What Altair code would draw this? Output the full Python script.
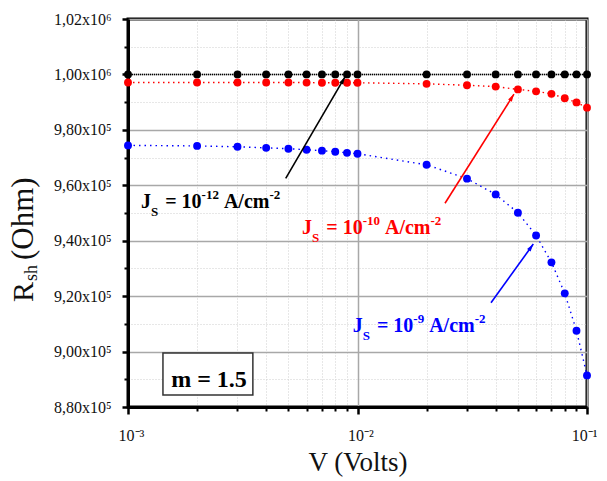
import altair as alt
import pandas as pd

# ---------------- data ----------------
V = [0.001, 0.002, 0.003, 0.004, 0.005, 0.006, 0.007, 0.008, 0.009,
     0.01, 0.02, 0.03, 0.04, 0.05, 0.06, 0.07, 0.08, 0.09, 0.1]
R_js12 = [1000000, 1000000, 1000000, 1000000, 1000000, 1000000, 1000000, 1000000, 1000000,
          1000000, 1000000, 1000000, 1000000, 1000000, 1000000, 1000000, 1000000, 1000000, 1000000]
R_js10 = [997100, 997100, 997100, 997100, 997100, 997050, 997000, 997000, 997000,
          997000, 996600, 996100, 995600, 994600, 993900, 993000, 991400, 989900, 988000]
R_js9 = [974400, 974200, 973900, 973500, 973200, 972800, 972500, 972100, 971700,
         971400, 967400, 962400, 956700, 950100, 941900, 932200, 921000, 907500, 891400]

series_names = ["1e-12", "1e-10", "1e-9"]
series_values = [R_js12, R_js10, R_js9]
series_colors = ["#000000", "#ff0000", "#0000ff"]
series_dash = [[1, 1], [1.5, 3.5], [1.5, 4]]

y_major = [880000, 900000, 920000, 940000, 960000, 980000, 1000000, 1020000]
y_major_labels = ["8,80x10⁵", "9,00x10⁵", "9,20x10⁵", "9,40x10⁵", "9,60x10⁵",
                  "9,80x10⁵", "1,00x10⁶", "1,02x10⁶"]
y_minor = [890000, 910000, 930000, 950000, 970000, 990000, 1010000]
x_major = [0.001, 0.01, 0.1]
x_major_labels = ["10⁻³", "10⁻²", "10⁻¹"]
x_minor = [0.002, 0.003, 0.004, 0.005, 0.006, 0.007, 0.008, 0.009,
           0.02, 0.03, 0.04, 0.05, 0.06, 0.07, 0.08, 0.09]

# annotations (data coordinates)
ann_exps = ["-12", "-10", "-9"]
ann_text_x = [0.001139, 0.005732, 0.00953]
ann_text_y = [951800, 942300, 907200]
arrow_x1 = [0.004866, 0.02406, 0.03817]
arrow_y1 = [962500, 953500, 917600]
arrow_x2 = [0.00882, 0.04806, 0.05835]
arrow_y2 = [999100, 992900, 938800]
arrow_angle = [30, 32, 36]

box_x = [0.00142, 0.00350]
box_y = [899500, 884300]
box_text = "m = 1.5"
box_text_x = 0.002254
box_text_y = 887200

SERIF = "Liberation Serif"

# ---------------- scales ----------------
xscale = alt.Scale(type="log", domain=[0.001, 0.1], nice=False)
yscale = alt.Scale(domain=[880000, 1020000], nice=False, zero=False)


def label_expr(values, labels):
    expr = "''"
    for v, l in zip(values, labels):
        expr = f"datum.value == {v} ? '{l}' : ({expr})"
    return expr


df_black = pd.DataFrame({"V": V, "R": R_js12})

# minor axes / grid layer
minor_layer = alt.Chart(df_black).mark_point(opacity=0).encode(
    x=alt.X("V:Q", scale=xscale, axis=alt.Axis(
        orient="bottom", values=x_minor, labels=False, title=None, domain=False,
        tickSize=4, tickWidth=2, tickColor="black",
        grid=True, gridColor="#cfcfcf", gridDash=[1, 2], gridWidth=1)),
    y=alt.Y("R:Q", scale=yscale, axis=alt.Axis(
        orient="left", values=y_minor, labels=False, title=None, domain=False,
        tickSize=4, tickWidth=2, tickColor="black",
        grid=True, gridColor="#cfcfcf", gridDash=[1, 2], gridWidth=1)),
)

# major axes / grid layer
major_layer = alt.Chart(df_black).mark_point(opacity=0).encode(
    x=alt.X("V:Q", scale=xscale, axis=alt.Axis(
        orient="bottom", values=x_major,
        labelExpr=label_expr(x_major, x_major_labels),
        labelFont=SERIF, labelFontSize=16, labelColor="#111",
        labelBaseline="alphabetic", labelPadding=26,
        labelAlign={"condition": {"test": "datum.value > 0.05", "value": "right"},
                    "value": "left"},
        labelOffset={"condition": {"test": "datum.value > 0.05", "value": 10},
                     "value": -10},
        labelFlush=False,
        domain=True, domainColor="black", domainWidth=3,
        tickSize=7, tickWidth=2.5, tickColor="black",
        grid=True, gridColor="#a8a8a8", gridWidth=1.5,
        title="V (Volts)", titleFont=SERIF, titleFontSize=27,
        titleFontWeight="normal", titleColor="#111",
        titleBaseline="alphabetic", titleY=63)),
    y=alt.Y("R:Q", scale=yscale, axis=alt.Axis(
        orient="left", values=y_major,
        labelExpr=label_expr(y_major, y_major_labels),
        labelFont=SERIF, labelFontSize=16, labelColor="#111",
        labelPadding=11, labelFlush=False,
        domain=True, domainColor="black", domainWidth=3,
        tickSize=6, tickWidth=2.5, tickColor="black",
        grid=True, gridColor="#a8a8a8", gridWidth=1.5,
        title=None)),
)

layers = [minor_layer, major_layer]

# series
for name, vals, col, dash in zip(series_names, series_values, series_colors, series_dash):
    d = pd.DataFrame({"V": V, "R": vals})
    base = alt.Chart(d).encode(
        x=alt.X("V:Q", scale=xscale, axis=None),
        y=alt.Y("R:Q", scale=yscale, axis=None),
    )
    layers.append(base.mark_line(color=col, strokeDash=dash, strokeWidth=1.4))
    layers.append(base.mark_circle(color=col, size=62, opacity=1))

# arrows
ARROW_PATH = "M0,0L-0.55,1.9L0.55,1.9Z"
for i, col in enumerate(series_colors):
    d = pd.DataFrame({"x1": [arrow_x1[i]], "y1": [arrow_y1[i]],
                      "x2": [arrow_x2[i]], "y2": [arrow_y2[i]]})
    layers.append(alt.Chart(d).mark_rule(color=col, strokeWidth=1.6).encode(
        x=alt.X("x1:Q", scale=xscale, axis=None),
        y=alt.Y("y1:Q", scale=yscale, axis=None),
        x2="x2:Q", y2="y2:Q"))
    layers.append(alt.Chart(d).mark_point(
        shape=ARROW_PATH, filled=True, color=col, opacity=1, size=64,
        angle=arrow_angle[i], strokeWidth=0).encode(
        x=alt.X("x2:Q", scale=xscale, axis=None),
        y=alt.Y("y2:Q", scale=yscale, axis=None)))

# annotation text pieces
WB = {"J": .5, "S": .556, "=": .570, "0": .5, "1": .5, "2": .5, "9": .5,
      "-": .333, "A": .722, "/": .278, "c": .444, "m": .833, " ": .25}


def tw(s, size):
    return sum(WB.get(c, .5) for c in s) * size


BIG, SMALL = 20, 13
for i, col in enumerate(series_colors):
    exp = ann_exps[i]
    pieces = []
    dx = 0
    pieces.append(("J", dx, 0, BIG)); dx += tw("J", BIG)
    pieces.append(("S", dx, 8, SMALL)); dx += tw("S", SMALL) + tw(" ", BIG) + 2
    pieces.append(("= 10", dx, 0, BIG)); dx += tw("= 10", BIG)
    pieces.append((exp, dx, -9, SMALL)); dx += tw(exp, SMALL) + tw(" ", BIG)
    pieces.append(("A/cm", dx, 0, BIG)); dx += tw("A/cm", BIG)
    pieces.append(("-2", dx, -9, SMALL))
    d = pd.DataFrame({"x": [ann_text_x[i]], "y": [ann_text_y[i]]})
    for txt, pdx, pdy, sz in pieces:
        layers.append(alt.Chart(d).mark_text(
            text=txt, dx=pdx, dy=pdy, fontSize=sz, font=SERIF, fontWeight="bold",
            color=col, align="left", baseline="alphabetic").encode(
            x=alt.X("x:Q", scale=xscale, axis=None),
            y=alt.Y("y:Q", scale=yscale, axis=None)))

# m = 1.5 box
dbox = pd.DataFrame({"x1": [box_x[0]], "x2": [box_x[1]], "y1": [box_y[0]], "y2": [box_y[1]]})
layers.append(alt.Chart(dbox).mark_rect(fill="white", stroke="#333", strokeWidth=1.5).encode(
    x=alt.X("x1:Q", scale=xscale, axis=None), x2="x2:Q",
    y=alt.Y("y1:Q", scale=yscale, axis=None), y2="y2:Q"))
dbt = pd.DataFrame({"x": [box_text_x], "y": [box_text_y]})
layers.append(alt.Chart(dbt).mark_text(
    text=box_text, fontSize=24, font=SERIF, fontWeight="bold", color="black",
    align="center", baseline="alphabetic").encode(
    x=alt.X("x:Q", scale=xscale, axis=None),
    y=alt.Y("y:Q", scale=yscale, axis=None)))

# y-axis title R_sh (Ohm), rotated
dummy = pd.DataFrame({"a": [0]})
for txt, pdx, pdy, sz in [("R", 0, 0, 30), ("sh", 21, 4, 18), ("(Ohm)", 42, 0, 31)]:
    layers.append(alt.Chart(dummy).mark_text(
        text=txt, dx=pdx, dy=pdy, fontSize=sz, font=SERIF, color="#111",
        angle=270, align="left", baseline="alphabetic").encode(
        x=alt.value(-95), y=alt.value(283)))

chart = alt.layer(*layers).resolve_axis(x="independent", y="independent").properties(
    width=459, height=388,
    autosize=alt.AutoSizeParams(type="none"),
    padding={"left": 120, "top": 11, "right": 10, "bottom": 70},
).configure_view(stroke="black", strokeWidth=3)

chart.save("out.html", embed_options={"renderer": "svg", "actions": False})
